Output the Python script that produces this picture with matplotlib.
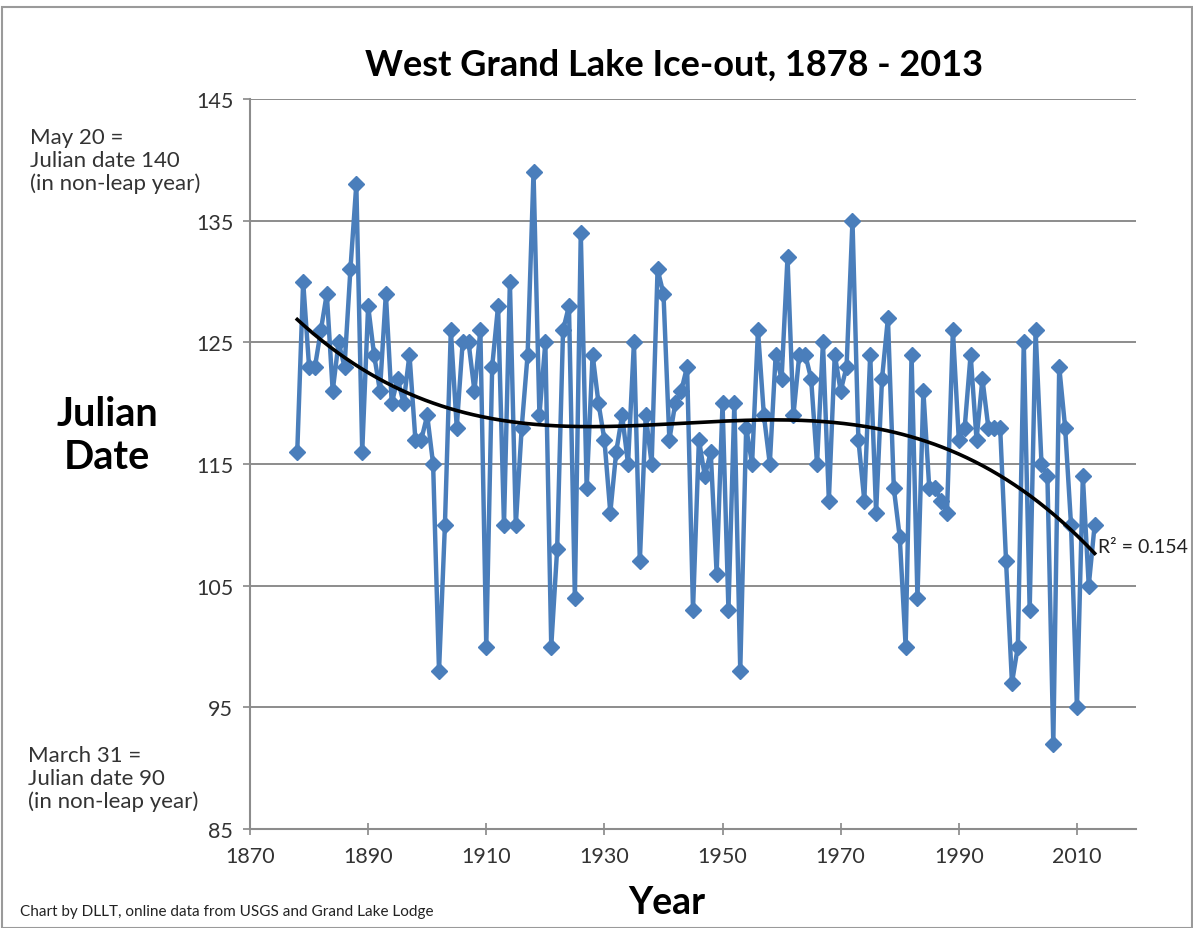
import numpy as np
import matplotlib
matplotlib.use("Agg")
import matplotlib.pyplot as plt
from matplotlib.patches import Rectangle

plt.rcParams['font.family'] = ['Lato', 'DejaVu Sans']

years = list(range(1878, 2014))
julian = [
    116, 130, 123, 123, 126, 129, 121, 125, 123, 131,  # 1878-1887
    138, 116, 128, 124, 121, 129, 120, 122, 120, 124,  # 1888-1897
    117, 117, 119, 115, 98, 110, 126, 118, 125, 125,   # 1898-1907
    121, 126, 100, 123, 128, 110, 130, 110, 118, 124,  # 1908-1917
    139, 119, 125, 100, 108, 126, 128, 104, 134, 113,  # 1918-1927
    124, 120, 117, 111, 116, 119, 115, 125, 107, 119,  # 1928-1937
    115, 131, 129, 117, 120, 121, 123, 103, 117, 114,  # 1938-1947
    116, 106, 120, 103, 120, 98, 118, 115, 126, 119,   # 1948-1957
    115, 124, 122, 132, 119, 124, 124, 122, 115, 125,  # 1958-1967
    112, 124, 121, 123, 135, 117, 112, 124, 111, 122,  # 1968-1977
    127, 113, 109, 100, 124, 104, 121, 113, 113, 112,  # 1978-1987
    111, 126, 117, 118, 124, 117, 122, 118, 118, 118,  # 1988-1997
    107, 97, 100, 125, 103, 126, 115, 114, 92, 123,    # 1998-2007
    118, 110, 95, 114, 105, 110                        # 2008-2013
]
xticks = [1870, 1890, 1910, 1930, 1950, 1970, 1990, 2010]
yticks = [85, 95, 105, 115, 125, 135, 145]
title = "West Grand Lake Ice-out, 1878 - 2013"
r2_label = "R\u00b2 = 0.154"

x = np.array(years, dtype=float)
y = np.array(julian, dtype=float)
coef = np.polyfit(x - 1945, y, 3)
xt = np.linspace(x.min(), x.max(), 300)
yt = np.polyval(coef, xt - 1945)

W, H = 1193, 929
fig = plt.figure(figsize=(W / 100, H / 100), dpi=100)
ax = fig.add_axes([250 / W, 1 - 830 / H, (1136 - 250) / W, (830 - 100) / H])

blue = '#4A7EBB'
ax.plot(x, y, color=blue, lw=3.2, marker='D', ms=8.5, mfc=blue, mec=blue, zorder=3)
ax.plot(xt, yt, color='black', lw=2.6, zorder=4)

ax.set_xlim(1870, 2020)
ax.set_ylim(85, 145)
ax.set_xticks(xticks)
ax.set_yticks(yticks)
ax.tick_params(axis='both', labelsize=15.5, colors='#333333', length=5, width=1.2)
ax.tick_params(axis='x', direction='inout', length=8, color='#888888', pad=8)
ax.tick_params(axis='y', direction='out', color='#888888', pad=7)
for t in ax.get_xticklabels() + ax.get_yticklabels():
    t.set_color('#333333')
ax.grid(axis='y', color='#8c8c8c', lw=1.4)
ax.set_axisbelow(True)
for s in ['top', 'right']:
    ax.spines[s].set_visible(False)
for s in ['left', 'bottom']:
    ax.spines[s].set_color('#8c8c8c')
    ax.spines[s].set_linewidth(1.5)

ax.text(x[-1] + 0.6, yt[-1] + 0.6, r2_label, fontsize=14, color='#222222',
        ha='left', va='center')

fig.text(674 / W, 1 - 65 / H, title, fontsize=26, fontweight='bold',
         ha='center', va='center', color='black')
fig.text(107 / W, 1 - 436 / H, "Julian\nDate", fontsize=28.5, fontweight='bold',
         ha='center', va='center', linespacing=1.2)
fig.text(667 / W, 1 - 903 / H, "Year", fontsize=27, fontweight='bold',
         ha='center', va='center')
fig.text(30 / W, 1 - 161 / H, "May 20 =\nJulian date 140\n(in non-leap year)",
         fontsize=16, ha='left', va='center', color='#333333', linespacing=1.15)
fig.text(28 / W, 1 - 779 / H, "March 31 =\nJulian date 90\n(in non-leap year)",
         fontsize=16, ha='left', va='center', color='#333333', linespacing=1.15)
fig.text(20 / W, 1 - 912 / H, "Chart by DLLT, online data from USGS and Grand Lake Lodge",
         fontsize=11, ha='left', va='center', color='#222222')

fig.patches.append(Rectangle((2 / W, 0), 1 - 3 / W, 1 - 8 / H, transform=fig.transFigure,
                             fill=False, edgecolor='#9a9a9a', lw=1.5))

fig.savefig('out.png', dpi=100)
